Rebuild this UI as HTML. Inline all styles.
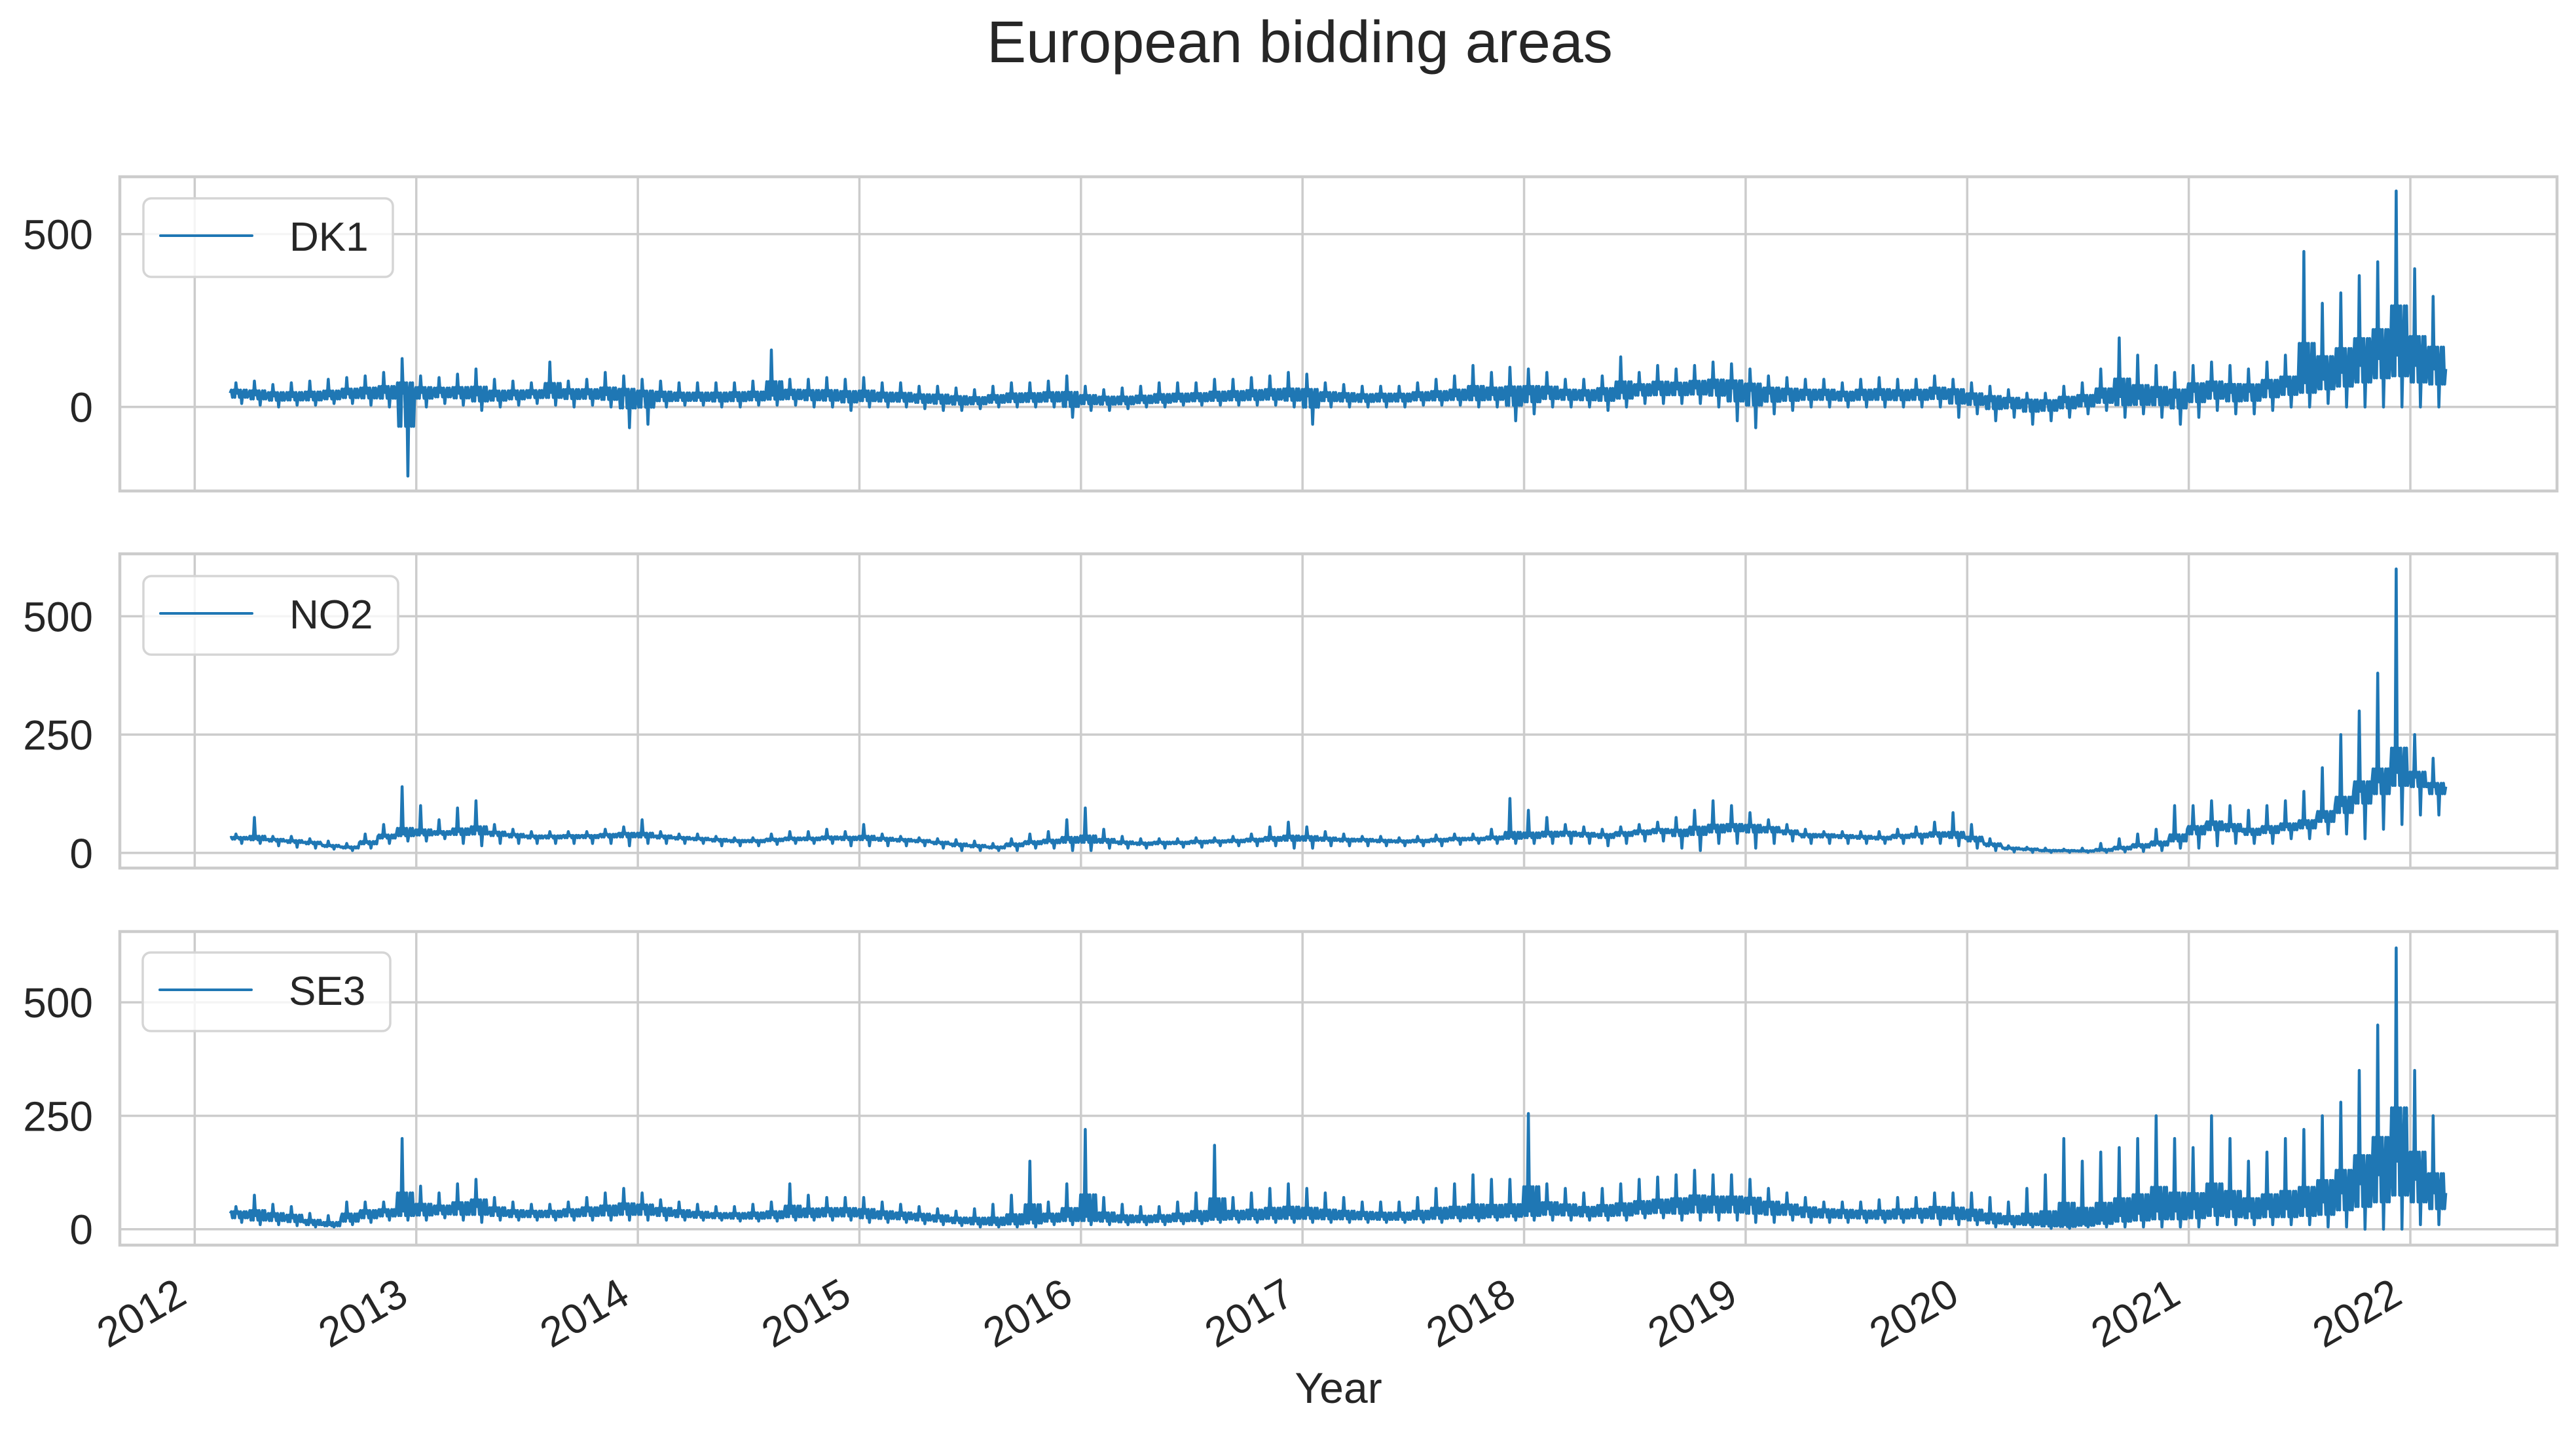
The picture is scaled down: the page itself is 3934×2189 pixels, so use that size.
<!DOCTYPE html>
<html><head><meta charset="utf-8"><title>European bidding areas</title>
<style>html,body{margin:0;padding:0;background:#fff}svg{display:block}text{font-family:"Liberation Sans",Arial,sans-serif;fill:#262626}</style>
</head><body>
<svg id="chart" width="3934" height="2189" viewBox="0 0 3934 2189" xmlns="http://www.w3.org/2000/svg">
<text x="1985" y="95" font-size="90" text-anchor="middle">European bidding areas</text>
<text x="2044" y="2143" font-size="66" text-anchor="middle">Year</text>
<g id="panels"></g>
</svg>
<script>
const years = [2012,2013,2014,2015,2016,2017,2018,2019,2020,2021,2022];
const seriesNames = ["DK1","NO2","SE3"];
const startYear = 2012.16;
const dk1Base = [40,35,32,30,30,32,38,40,42,40, 42,42,40,35,32,35,38,42,40,38,36,35, 32,30,28,28,28,30,30,34,36,34,32,30, 30,28,27,25,24,20,18,22,25,26,28,22, 22,20,18,20,22,24,26,28,30,32,34,32, 32,30,28,26,28,28,30,30,32,34,36,34, 38,40,36,34,38,42,50,52,52,55,56,55, 48,40,38,36,36,32,36,36,34,36,40,38, 25,18,15,12,10,15,18,28,30,25,30,28, 45,48,42,45,55,60,70,80,100,120,140,150, 120,110];
const dk1High = [70,75,65,70,75,80,85,90,100,140, 90,85,95,110,80,75,70,130,75,80,100,90, 80,75,70,70,70,70,75,165,80,80,85,80, 85,70,70,60,60,55,50,60,70,70,75,90, 60,50,55,60,70,70,70,80,80,85,90,100, 95,70,65,60,60,60,70,80,90,120,100,115, 110,100,80,80,90,145,100,120,110,120,130,125, 110,90,85,80,80,70,80,85,80,80,90,80, 70,60,50,40,40,60,70,110,200,150,120,100, 120,130,120,110,130,150,450,300,330,380,420,625, 400,320];
const dk1Low = [10,5,0,5,5,10,10,5,0,-200, 0,10,5,-10,0,5,10,5,0,5,0,-60, -50,0,5,5,0,0,5,5,5,0,0,-10, 0,0,0,-5,-10,-10,-5,0,0,0,0,-30, -10,-10,-5,0,0,5,5,5,5,5,5,0, -50,0,0,0,0,0,5,5,5,0,0,-40, -20,0,0,0,-10,0,10,10,10,10,0,-40, -60,-20,-10,0,0,0,0,0,0,0,0,-30, -20,-40,-30,-50,-40,-30,-20,-10,-30,-20,-30,-50, -30,-10,-20,-20,-10,0,0,10,0,0,0,0, 0,0];
const no2Base = [32,30,28,25,22,15,12,22,35,40, 42,42,45,48,42,38,35,35,36,36,38,40, 38,35,32,30,28,26,26,28,30,30,32,32, 32,30,28,26,22,18,15,12,18,22,25,28, 28,26,22,20,22,22,24,25,26,28,30,32, 32,30,28,28,26,25,26,28,30,30,32,34, 36,40,42,40,38,42,45,48,45,50,52,55, 55,52,45,38,38,36,34,32,36,38,40,38, 30,18,10,8,5,5,4,6,10,15,20,30, 50,60,55,45,50,55,60,75,100,130,150,170, 160,140];
const no2High = [40,75,35,35,30,25,20,40,60,140, 100,70,95,110,60,50,45,45,45,45,50,55, 70,45,40,40,35,32,32,40,45,45,50,45, 60,40,35,32,30,28,25,20,30,40,45,70, 95,50,35,30,30,30,32,32,35,40,55,65, 55,45,40,35,35,32,35,38,40,40,50,115, 90,75,60,55,50,55,60,65,75,90,110,100, 85,70,60,50,45,45,45,45,50,55,65,85, 60,30,15,12,10,8,10,20,30,40,50,100, 100,110,100,90,100,110,130,180,250,300,380,600, 250,200];
const no2Low = [20,20,15,12,10,8,5,10,20,25, 25,30,20,15,20,20,20,20,20,20,20,15, 20,20,20,20,15,15,15,18,20,20,20,15, 15,15,15,15,10,5,5,5,5,10,10,5, 5,10,10,10,10,12,12,15,15,15,15,10, 10,15,15,15,15,15,15,15,18,20,20,20, 20,20,20,20,15,20,25,25,10,5,20,20, 10,20,25,20,20,20,20,20,20,20,20,15, 10,5,2,1,1,1,1,1,2,3,5,10, 10,15,20,20,20,30,30,40,40,30,50,60, 80,80];
const se3Base = [35,30,28,25,15,10,25,35,38,40, 42,42,45,50,40,35,35,35,38,40,42,45, 45,40,35,32,30,30,30,32,35,35,38,38, 35,32,30,28,25,20,18,15,18,22,25,28, 28,25,22,22,24,25,26,28,30,30,32,32, 32,30,30,30,28,28,30,32,32,32,34,36, 40,45,42,38,40,42,45,48,50,55,55,55, 55,50,45,40,38,36,34,32,34,36,38,36, 30,22,18,15,12,10,12,20,30,35,40,40, 45,50,45,40,45,45,50,60,80,100,120,150, 110,80];
const se3High = [50,75,55,50,35,30,60,60,60,200, 95,80,100,110,70,60,55,55,60,70,80,90, 80,65,60,55,50,50,55,60,100,75,70,70, 70,60,55,50,45,40,45,55,75,150,60,100, 220,70,55,50,50,60,80,185,70,80,90,100, 90,80,70,60,60,60,70,90,100,120,110,110, 255,100,90,80,90,100,110,115,120,130,120,120, 110,90,80,70,60,60,60,65,70,70,80,80, 80,70,60,90,120,200,150,170,180,200,250,200, 180,250,200,150,170,200,220,250,280,350,450,620, 350,250];
const se3Low = [15,10,10,8,5,5,10,15,20,20, 20,25,20,15,20,20,20,20,20,20,20,20, 20,20,20,20,20,18,18,18,20,20,20,20, 15,15,15,12,10,8,5,5,5,5,10,10, 10,10,10,10,10,12,12,15,15,15,15,15, 15,15,15,15,15,15,15,15,18,18,20,20, 20,20,20,20,20,20,25,25,20,20,20,20, 15,15,20,15,15,15,15,15,15,15,10,10, 10,5,5,5,2,2,5,5,5,5,5,5, 5,10,10,10,10,10,10,5,5,0,0,0, 10,10];
const dk1Ticks = [0,500];
const no2Ticks = [0,250,500];
const se3Ticks = [0,250,500];

const NS = "http://www.w3.org/2000/svg";
const X0 = 183, X1 = 3905, YR0 = 2011.662, YR1 = 2022.662;
function xScale(yr){ return X0 + (yr - YR0) / (YR1 - YR0) * (X1 - X0); }
function mk(tag, attrs){ const e = document.createElementNS(NS, tag); for (const k in attrs) e.setAttribute(k, attrs[k]); return e; }
const root = document.getElementById("panels");
const panels = [
  {name:"DK1", top:270, bottom:750, vmin:-243, vmax:666, base:dk1Base, hi:dk1High, lo:dk1Low, ticks:dk1Ticks, leg:[219,303,600,423], ku:0.3, kd:0.4},
  {name:"NO2", top:846, bottom:1326, vmin:-32, vmax:632, base:no2Base, hi:no2High, lo:no2Low, ticks:no2Ticks, leg:[219,880,608,1000], ku:0.12, kd:0.25},
  {name:"SE3", top:1423, bottom:1902, vmin:-35, vmax:656, base:se3Base, hi:se3High, lo:se3Low, ticks:se3Ticks, leg:[218,1455,596,1575], ku:0.25, kd:0.5}
];
panels.forEach((p, pi) => {
  const g = mk("g", {});
  
  
  root.appendChild(g);
  const yScale = v => p.bottom - (v - p.vmin) / (p.vmax - p.vmin) * (p.bottom - p.top);
  years.forEach(yr => {
    const x = xScale(yr);
    const l = mk("line", {x1:x, x2:x, y1:p.top, y2:p.bottom, stroke:"#cccccc", "stroke-width":3.5});
    
    
    g.appendChild(l);
  });
  p.ticks.forEach(v => {
    const y = yScale(v);
    const l = mk("line", {x1:X0, x2:X1, y1:y, y2:y, stroke:"#cccccc", "stroke-width":3.5});
    
    
    g.appendChild(l);
    const t = mk("text", {x:142, y:y + 23, "font-size":64, "text-anchor":"end"});
    t.textContent = String(v);
    
    
    g.appendChild(t);
  });
  const pts = [];
  for (let i = 0; i < p.base.length; i++) {
    const b = p.base[i], h = p.hi[i], lo = p.lo[i];
    const u = (h - b) * p.ku, d = (b - lo) * p.kd;
    const vals = [b, b+u, b-d, b+u, b-d, h, b, b+u, b-d, b+u, lo, b, b+u, b-d, b+u, b-d];
    for (let k = 0; k < vals.length; k++) {
      const yr = startYear + (i + k / vals.length) / 12;
      pts.push(xScale(yr).toFixed(1) + "," + yScale(vals[k]).toFixed(1));
    }
  }
  const last = p.base.length - 1;
  pts.push(xScale(startYear + (last + 1) / 12).toFixed(1) + "," + yScale(p.base[last]).toFixed(1));
  const line = mk("polyline", {points:pts.join(" "), fill:"none", stroke:"#1f77b4", "stroke-width":4.5, "stroke-linejoin":"round"});
  
  
  g.appendChild(line);
  const frame = mk("rect", {x:X0, y:p.top, width:X1 - X0, height:p.bottom - p.top, fill:"none", stroke:"#cccccc", "stroke-width":4.5});
  
  
  g.appendChild(frame);
  const [lx0, ly0, lx1, ly1] = p.leg;
  const lg = mk("g", {});
  
  
  g.appendChild(lg);
  lg.appendChild(mk("rect", {x:lx0, y:ly0, width:lx1 - lx0, height:ly1 - ly0, rx:12, fill:"#ffffff", "fill-opacity":0.8, stroke:"#d5d5d5", "stroke-width":3.5}));
  const cy = (ly0 + ly1) / 2 - 3;
  const sw = mk("line", {x1:lx0 + 26, x2:lx0 + 166, y1:cy, y2:cy, stroke:"#1f77b4", "stroke-width":4, "stroke-linecap":"round"});
  
  
  lg.appendChild(sw);
  const lt = mk("text", {x:lx0 + 223, y:cy + 23, "font-size":62});
  lt.textContent = p.name;
  
  
  lg.appendChild(lt);
  if (pi === 2) {
    years.forEach(yr => {
      const ax = xScale(yr) - 9, ay = 1989;
      const t = mk("text", {x:ax, y:ay, "font-size":64, "text-anchor":"end", transform:"rotate(-30 " + ax + " " + ay + ")"});
      t.textContent = String(yr);
      
      
      g.appendChild(t);
    });
  }
});
</script>
</body></html>
